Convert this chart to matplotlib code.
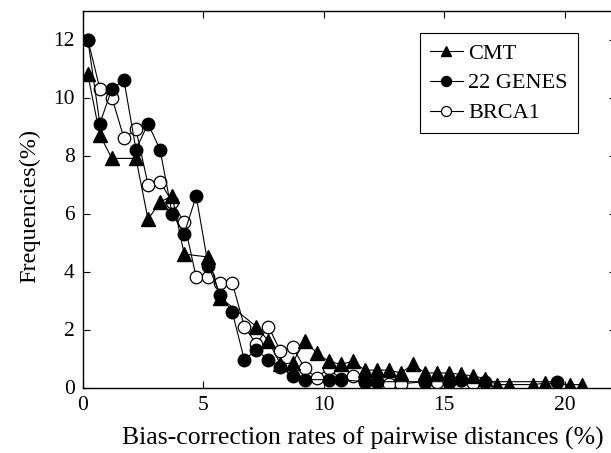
import matplotlib
matplotlib.use('Agg')
import matplotlib.pyplot as plt

plt.rcParams['font.family'] = ['Liberation Serif', 'DejaVu Serif']

# CMT series (triangles)
cmt_x = [0.2, 0.7, 1.2, 2.2, 2.7, 3.2, 3.7, 4.2, 5.2, 5.7, 7.2, 7.7, 8.2, 8.7,
         9.2, 9.7, 10.2, 10.7, 11.2, 11.7, 12.2, 12.7, 13.2, 13.7, 14.2, 14.7,
         15.2, 15.7, 16.2, 16.7, 17.2, 17.7, 18.7, 19.2, 20.2, 20.7]
cmt_y = [10.8, 8.7, 7.9, 7.9, 5.8, 6.4, 6.6, 4.6, 4.5, 3.1, 2.1, 1.6, 0.8, 0.85,
         1.6, 1.2, 0.9, 0.8, 0.9, 0.6, 0.6, 0.6, 0.5, 0.8, 0.5, 0.5,
         0.5, 0.45, 0.4, 0.3, 0.1, 0.1, 0.1, 0.15, 0.1, 0.1]

# 22 GENES series (filled circles)
genes_x = [0.2, 0.7, 1.2, 1.7, 2.2, 2.7, 3.2, 3.7, 4.2, 4.7, 5.2, 5.7, 6.2, 6.7,
           7.2, 7.7, 8.2, 8.7, 9.2, 10.2, 10.7, 11.7, 12.2, 14.2, 15.2, 15.7,
           16.7, 19.7]
genes_y = [12.0, 9.1, 10.3, 10.6, 8.2, 9.1, 8.2, 6.0, 5.3, 6.6, 4.2, 3.2, 2.6, 0.95,
           1.3, 0.95, 0.72, 0.38, 0.27, 0.27, 0.27, 0.2, 0.2, 0.2, 0.2, 0.27,
           0.2, 0.2]

# BRCA1 series (open circles)
brca_x = [0.2, 0.7, 1.2, 1.7, 2.2, 2.7, 3.2, 3.7, 4.2, 4.7, 5.2, 5.7, 6.2, 6.7,
          7.2, 7.7, 8.2, 8.7, 9.2, 9.7, 10.2, 10.7, 11.2, 11.7, 12.2, 12.7,
          13.2, 14.2, 14.7, 15.2, 15.7, 16.2]
brca_y = [12.0, 10.3, 10.0, 8.6, 8.9, 7.0, 7.1, 6.4, 5.7, 3.8, 3.8, 3.6, 3.6, 2.1,
          1.5, 2.1, 1.25, 1.4, 0.67, 0.33, 0.67, 0.28, 0.38, 0.2, 0.2, 0.13,
          0.13, 0.2, 0.2, 0.2, 0.27, 0.15]

x_ticks = [0, 5, 10, 15, 20]
y_ticks = [0, 2, 4, 6, 8, 10, 12]

fig = plt.figure(figsize=(6.11, 4.53), dpi=100)
# axes box runs a little past the right edge of the figure, as in the original
ax = fig.add_axes([83 / 611, 65.5 / 453, 533 / 611, 377 / 453])

ax.plot(cmt_x, cmt_y, '-^', color='black', mfc='black', mec='black',
        lw=0.8, ms=9.5, label='CMT', zorder=4)
ax.plot(genes_x, genes_y, '-o', color='black', mfc='black', mec='black',
        lw=0.8, ms=9, label='22 GENES', zorder=3)
ax.plot(brca_x, brca_y, '-o', color='black', mfc='white', mec='black',
        lw=0.8, ms=9, mew=0.9, label='BRCA1', zorder=2)

ax.set_xlim(0, 22.13)
ax.set_ylim(0, 13)
ax.set_xticks(x_ticks)
ax.set_yticks(y_ticks)
ax.tick_params(direction='in', length=5, width=0.8, top=True, right=True,
               labelsize=15.5, pad=6)
for s in ax.spines.values():
    s.set_linewidth(1.0)

ax.set_xlabel('Bias-correction rates of pairwise distances (%)', fontsize=18.5)
ax.xaxis.set_label_coords(0.525, -0.105)
ax.set_ylabel('Frequencies(%)', fontsize=17.5)
ax.yaxis.set_label_coords(-0.081, 0.481)

leg = ax.legend(loc='upper right', bbox_to_anchor=(578 / 611, 1 - 33 / 453),
                bbox_transform=fig.transFigure, borderaxespad=0,
                fontsize=16, fancybox=False, framealpha=1, edgecolor='black',
                handlelength=1.5, handletextpad=0.25, labelspacing=0.42,
                borderpad=0.45, markerscale=0.8)
leg.get_frame().set_linewidth(0.8)

fig.savefig('out.png', dpi=100)
